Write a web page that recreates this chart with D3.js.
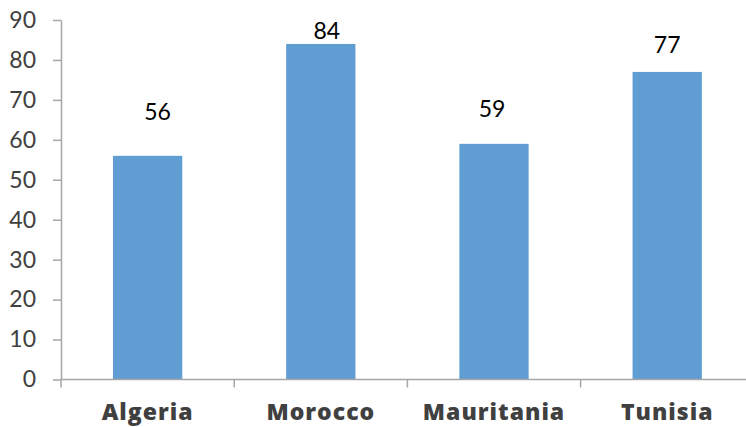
<!DOCTYPE html>
<html>
<head>
<meta charset="utf-8">
<script src="https://cdn.jsdelivr.net/npm/d3@7"></script>
<style>
  html, body { margin: 0; padding: 0; background: #fff; }
  svg { display: block; }
</style>
</head>
<body>
<svg id="chart" width="746" height="427"></svg>
<script>
// Chart data
const categories = ["Algeria", "Morocco", "Mauritania", "Tunisia"];
const values = [56, 84, 59, 77];
const yTicks = [0, 10, 20, 30, 40, 50, 60, 70, 80, 90];

// Hand-placed value labels: lift above bar top and sideways nudge (px)
const labelLift = [36, 5, 27, 19];
const labelShift = [10, 6, -2, 0];

(function () {
  const W = 746;
  const plotLeft = 61, plotTop = 20, plotBottom = 379.5;
  const band = 173.2;

  const svg = d3.select("#chart");

  const x = d3.scaleBand()
    .domain(categories)
    .range([plotLeft, plotLeft + band * categories.length])
    .paddingInner(0.6)
    .paddingOuter(0.3);

  const y = d3.scaleLinear().domain([0, 90]).range([plotBottom, plotTop]);

  const axisColor = "#a6a6a6";
  const textColor = "#404040";

  // Bars
  svg.append("g").selectAll("rect")
    .data(values)
    .join("rect")
    .attr("x", (d, i) => x(categories[i]))
    .attr("width", x.bandwidth())
    .attr("y", d => y(d))
    .attr("height", d => y(0) - y(d))
    .attr("fill", "#5f9dd3");

  // Y axis
  const yAxis = svg.append("g")
    .attr("transform", `translate(${plotLeft},0)`)
    .call(d3.axisLeft(y).tickValues(yTicks).tickSize(8).tickPadding(17).tickSizeOuter(0));
  yAxis.select(".domain").attr("stroke", axisColor).attr("stroke-width", 1.5);
  yAxis.selectAll(".tick line").attr("stroke", axisColor).attr("stroke-width", 1.5);
  yAxis.selectAll(".tick text")
    .attr("fill", textColor)
    .style("font-family", "Lato, 'Open Sans', sans-serif")
    .style("font-size", "23px");

  // X axis line with category boundary ticks
  const xAxisG = svg.append("g");
  xAxisG.append("line")
    .attr("x1", plotLeft).attr("x2", W)
    .attr("y1", y(0)).attr("y2", y(0))
    .attr("stroke", axisColor).attr("stroke-width", 1.5);
  const [r0, r1] = x.range();
  const boundaries = d3.range(categories.length + 1)
    .map(i => r0 + i * (r1 - r0) / categories.length);
  xAxisG.selectAll("line.bt")
    .data(boundaries.filter(b => b <= W))
    .join("line")
    .attr("class", "bt")
    .attr("x1", d => d).attr("x2", d => d)
    .attr("y1", y(0)).attr("y2", y(0) + 8)
    .attr("stroke", axisColor).attr("stroke-width", 1.5);

  // Category labels
  svg.append("g").selectAll("text")
    .data(categories)
    .join("text")
    .attr("x", d => x(d) + x.bandwidth() / 2)
    .attr("y", 420)
    .attr("text-anchor", "middle")
    .attr("fill", textColor)
    .style("font-family", "'Open Sans', Lato, sans-serif")
    .style("font-weight", "800")
    .style("font-size", "23px")
    .style("letter-spacing", "1px")
    .text(d => d);

  // Value labels
  svg.append("g").selectAll("text")
    .data(values)
    .join("text")
    .attr("x", (d, i) => x(categories[i]) + x.bandwidth() / 2 + labelShift[i])
    .attr("y", (d, i) => y(d) - labelLift[i])
    .attr("text-anchor", "middle")
    .attr("fill", "#000")
    .style("font-family", "Lato, 'Open Sans', sans-serif")
    .style("font-size", "23px")
    .text(d => d);
})();
</script>
</body>
</html>
